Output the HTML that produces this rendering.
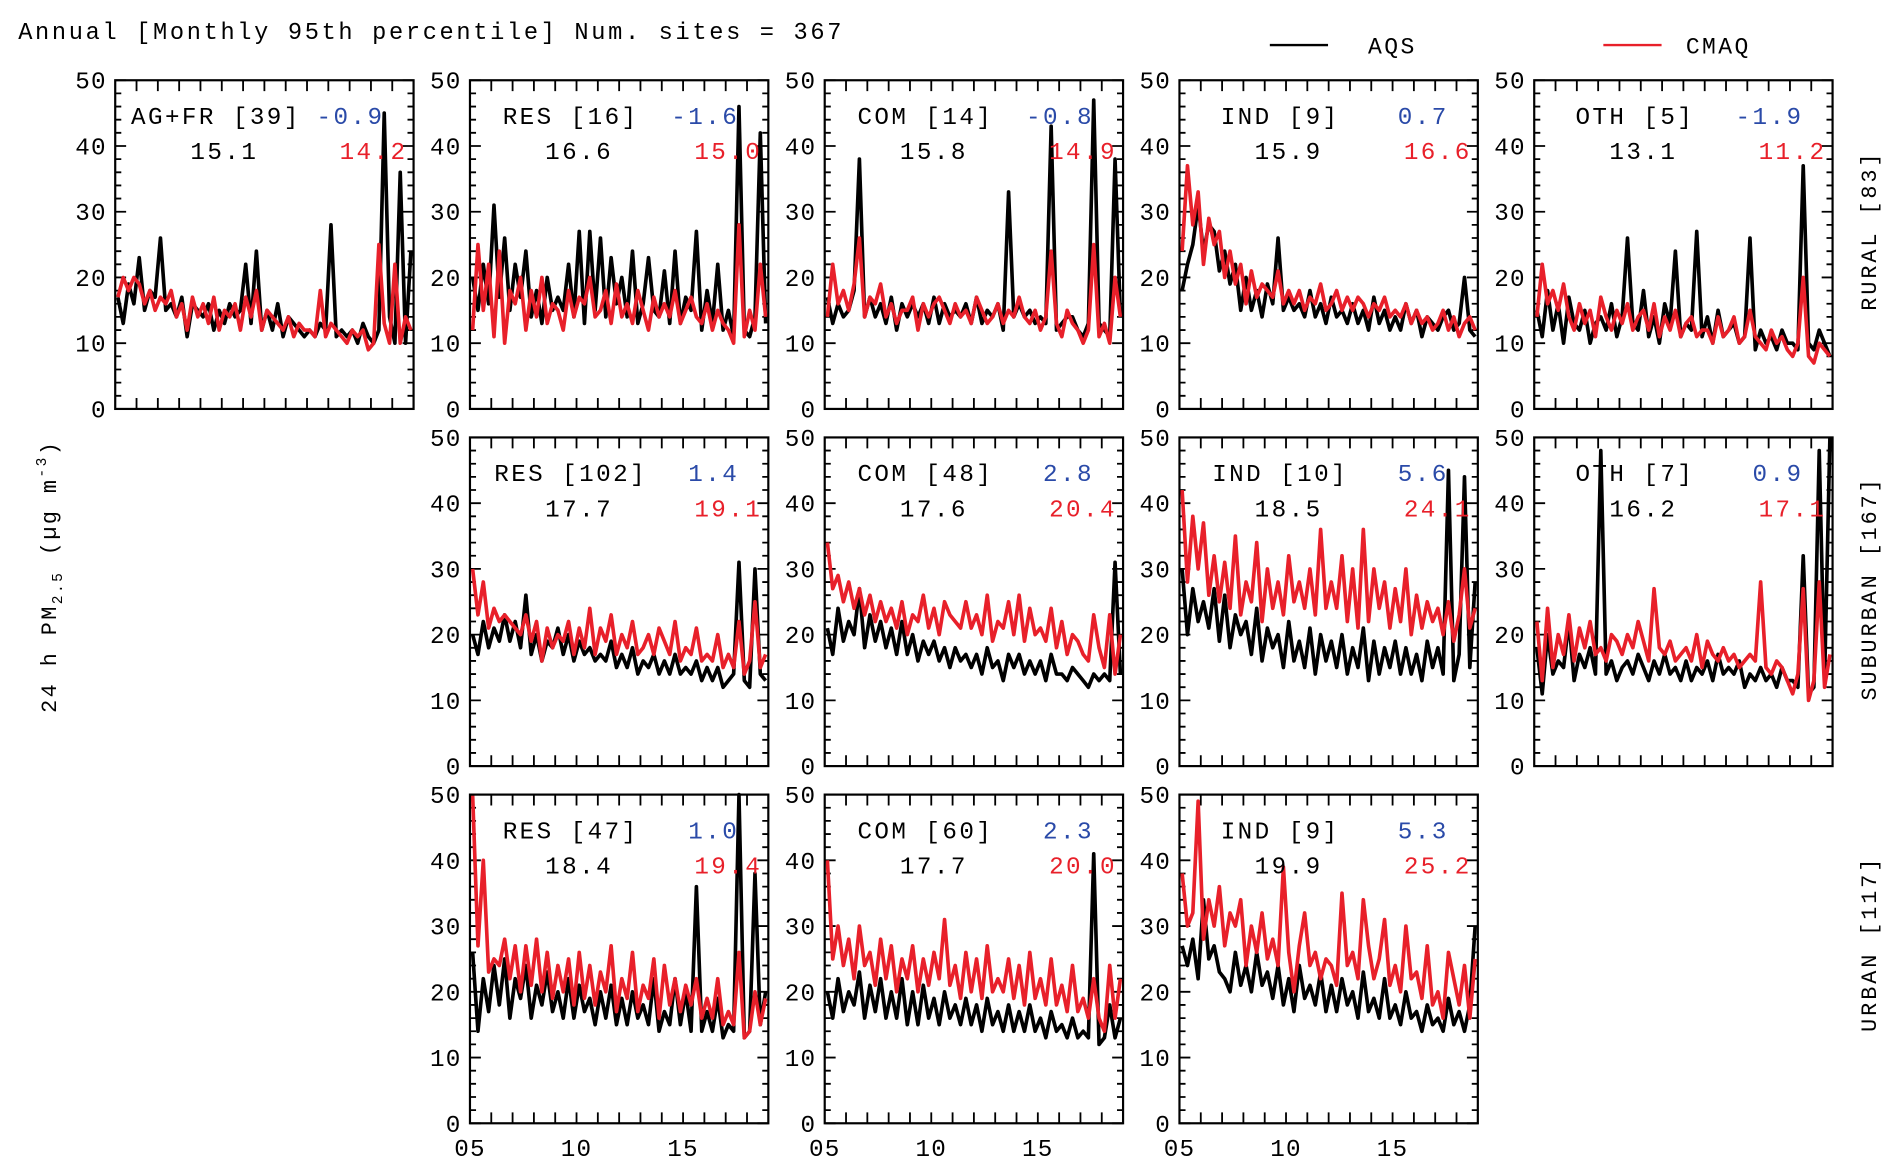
<!DOCTYPE html>
<html><head><meta charset="utf-8">
<style>
html,body{margin:0;padding:0;background:#fff;}
svg{display:block;font-family:"Liberation Mono","DejaVu Sans Mono",monospace;}
</style></head>
<body>
<svg id="chart" width="1892" height="1172" viewBox="0 0 1560 966" xmlns="http://www.w3.org/2000/svg">
<text x="15" y="32" font-size="19.5" letter-spacing="2.2" fill="#000">Annual [Monthly 95th percentile] Num. sites = 367</text>
<g>
<line x1="1047" y1="37" x2="1095" y2="37" stroke="#000" stroke-width="2"/>
<text x="1128" y="44" font-size="19" letter-spacing="2" fill="#000">AQS</text>
<line x1="1322" y1="37" x2="1370" y2="37" stroke="#e8202a" stroke-width="2"/>
<text x="1390" y="44" font-size="19" letter-spacing="2" fill="#000">CMAQ</text>
</g>
<text transform="translate(46,475) rotate(-90)" text-anchor="middle" font-size="18" letter-spacing="2" fill="#000">24 h PM<tspan font-size="12" dy="5">2.5</tspan><tspan dy="-5"> (µg m</tspan><tspan font-size="12" dy="-8">-3</tspan><tspan dy="8">)</tspan></text>
<text transform="translate(1547,190) rotate(-90)" text-anchor="middle" font-size="18" letter-spacing="2.4" fill="#000">RURAL [83]</text>
<text transform="translate(1547,485) rotate(-90)" text-anchor="middle" font-size="18" letter-spacing="2.4" fill="#000">SUBURBAN [167]</text>
<text transform="translate(1547,778) rotate(-90)" text-anchor="middle" font-size="18" letter-spacing="2.4" fill="#000">URBAN [117]</text>
<g id="panels"></g>
</svg>
<script>
// Quarterly values, 2005 Q1 .. 2018 Q4 (56 per series)
const rurAgfrAqs=[17,13,19,16,23,15,18,17,26,15,16,14,17,11,16,15,14,16,12,15,13,16,14,15,22,13,24,12,15,12,16,11,14,13,12,11,12,11,13,12,28,11,12,11,12,10,13,11,10,12,45,14,10,36,10,24];
const rurAgfrCmaq=[17,20,18,20,19,16,18,15,17,16,18,14,16,12,17,14,16,13,17,12,15,14,16,12,17,14,18,12,15,14,13,12,14,11,13,12,12,11,18,11,13,12,11,10,12,11,12,9,10,25,13,10,22,10,14,12];
const rurResAqs=[20,15,22,16,31,17,26,15,22,17,24,14,18,13,20,15,17,15,22,14,27,13,27,15,26,14,23,16,20,14,24,13,16,23,15,14,21,13,24,13,17,15,27,12,18,13,22,12,15,11,46,12,11,14,42,13];
const rurResCmaq=[12,25,15,22,11,24,10,18,16,20,12,18,14,20,13,16,15,12,18,14,17,16,20,14,15,18,13,19,14,16,13,18,15,12,17,14,16,14,18,13,15,17,14,13,16,12,15,13,12,10,28,11,15,12,22,14];
const rurComAqs=[17,13,16,14,15,18,38,14,17,14,16,13,17,12,16,14,16,14,16,13,17,13,16,14,15,14,16,13,17,13,15,14,16,12,33,14,16,14,15,13,14,13,43,12,13,14,14,12,11,13,47,13,12,11,38,14];
const rurComCmaq=[14,22,16,18,15,19,26,14,17,16,19,14,16,13,15,15,17,12,16,14,16,17,15,13,16,14,15,13,17,15,13,14,16,13,15,14,17,14,13,15,12,14,24,13,11,15,13,12,10,12,25,11,13,10,20,14];
const rurIndAqs=[18,22,25,31,24,28,27,21,24,19,22,15,20,15,18,14,19,16,26,15,17,15,16,14,18,14,16,13,17,14,15,13,16,13,15,12,17,13,15,12,14,12,16,13,15,11,14,13,12,14,15,12,13,20,12,11];
const rurIndCmaq=[24,37,28,33,22,29,25,27,20,24,19,22,16,21,17,19,18,17,21,16,18,16,18,15,17,16,19,15,16,18,15,17,15,17,16,14,16,15,17,14,15,14,16,13,15,13,14,12,13,15,12,14,11,13,14,12];
const rurOthAqs=[15,11,18,12,16,10,17,13,12,15,10,13,14,12,16,11,14,26,13,12,18,11,14,10,16,13,24,11,13,12,27,11,14,10,15,11,12,13,10,11,26,9,12,10,11,9,12,10,10,9,37,10,9,12,10,8];
const rurOthCmaq=[14,22,16,18,15,19,14,12,16,13,15,11,17,14,12,15,13,16,12,14,15,12,16,11,14,12,15,11,13,14,11,12,12,10,14,11,12,14,10,11,15,11,10,9,12,10,11,9,8,10,20,8,7,10,9,8];
const subResAqs=[20,17,22,18,21,19,23,19,22,18,26,17,20,16,19,18,21,17,20,16,19,17,18,16,17,16,19,15,17,15,18,14,16,15,17,14,16,14,17,14,15,14,16,13,15,13,15,12,13,14,31,13,12,30,14,13];
const subResCmaq=[30,23,28,21,24,22,23,22,21,20,23,19,22,16,21,18,20,19,22,17,21,18,24,17,21,19,23,17,20,18,22,17,18,20,17,21,19,17,22,16,18,17,21,16,17,16,20,15,17,15,22,14,16,25,15,17];
const subComAqs=[21,17,24,19,22,20,27,18,23,19,22,18,21,17,22,17,20,16,19,17,19,16,18,15,18,16,17,15,17,14,18,15,16,13,17,15,17,14,16,14,16,13,17,14,14,13,15,14,13,12,14,13,14,13,31,14];
const subComCmaq=[34,27,29,25,28,24,27,23,26,22,25,22,24,21,25,20,23,22,26,21,24,20,25,23,22,21,25,21,23,20,26,19,22,21,25,20,26,19,24,20,21,19,24,18,22,17,20,19,17,16,23,18,15,23,14,20];
const subIndAqs=[30,20,27,22,25,21,27,19,26,18,23,20,22,17,24,16,21,18,20,15,22,16,19,15,21,14,20,16,19,15,20,14,18,15,21,13,19,14,18,15,19,14,18,14,17,13,19,15,18,14,45,13,17,44,15,28];
const subIndCmaq=[42,28,38,30,37,26,32,25,31,24,35,23,28,25,34,22,30,24,28,23,32,25,28,24,30,23,36,24,28,24,32,22,30,21,36,22,30,24,28,21,27,22,30,20,26,21,25,22,24,20,25,19,23,30,21,24];
const subOthAqs=[18,11,20,14,16,15,22,13,17,15,18,14,48,14,16,13,15,16,14,17,15,13,16,14,17,14,15,13,16,13,15,14,16,13,17,14,15,14,16,12,14,13,15,13,14,12,15,13,13,12,32,11,12,48,13,50];
const subOthCmaq=[22,13,24,15,20,17,23,16,21,18,22,17,18,16,20,19,17,20,18,22,19,16,27,18,17,19,16,17,18,16,20,15,19,17,16,18,16,17,15,16,17,16,28,15,14,16,15,13,11,14,27,10,13,28,12,17];
const urbResAqs=[26,14,22,17,24,18,25,16,22,19,24,16,21,18,23,17,20,16,22,16,21,17,19,15,20,16,21,15,19,15,20,16,18,15,22,14,17,15,22,15,20,14,36,14,17,14,19,13,15,14,50,13,14,38,15,20];
const urbResCmaq=[50,27,40,23,25,24,28,22,27,20,27,21,28,20,26,19,24,20,25,18,26,19,24,18,23,20,27,17,22,19,26,17,21,19,25,16,24,18,22,17,21,18,22,16,19,16,22,15,17,15,26,13,14,20,15,19];
const urbComAqs=[20,16,22,17,20,18,23,16,21,17,22,16,20,16,22,15,20,15,21,16,19,15,20,16,18,15,19,15,18,14,19,15,17,14,18,14,17,14,18,14,16,13,17,14,15,13,16,13,14,13,41,12,13,18,13,16];
const urbComCmaq=[40,25,30,24,28,22,30,24,26,21,28,22,27,20,25,22,27,20,25,21,26,22,31,21,24,19,26,20,25,19,27,20,22,20,25,19,24,18,26,19,22,18,25,18,21,17,24,17,19,16,22,16,14,24,16,22];
const urbIndAqs=[27,24,28,22,34,25,27,23,22,20,26,21,24,20,26,21,23,19,24,18,22,17,24,19,21,18,23,17,21,17,22,18,20,16,23,17,19,16,22,16,18,15,20,16,17,14,18,15,16,14,19,15,17,14,18,30];
const urbIndCmaq=[38,30,32,49,28,34,30,36,27,32,30,34,24,30,26,32,25,28,24,39,26,20,27,32,24,26,22,25,24,21,35,24,26,22,34,27,22,25,31,21,24,20,30,22,23,19,27,18,20,16,26,22,18,24,16,25];

const panelLabels=["AG+FR [39]","RES [16]","COM [14]","IND [9]","OTH [5]","RES [102]","COM [48]","IND [10]","OTH [7]","RES [47]","COM [60]","IND [9]"];
const panelDiffs=["-0.9","-1.6","-0.8","0.7","-1.9","1.4","2.8","5.6","0.9","1.0","2.3","5.3"];
const panelMeanAqs=["15.1","16.6","15.8","15.9","13.1","17.7","17.6","18.5","16.2","18.4","17.7","19.9"];
const panelMeanCmaq=["14.2","15.0","14.9","16.6","11.2","19.1","20.4","24.1","17.1","19.4","20.0","25.2"];
const panelRows=[0,0,0,0,0,1,1,1,1,2,2,2];
const panelCols=[0,1,2,3,4,1,2,3,4,1,2,3];
const aqsSeries=[rurAgfrAqs,rurResAqs,rurComAqs,rurIndAqs,rurOthAqs,subResAqs,subComAqs,subIndAqs,subOthAqs,urbResAqs,urbComAqs,urbIndAqs];
const cmaqSeries=[rurAgfrCmaq,rurResCmaq,rurComCmaq,rurIndCmaq,rurOthCmaq,subResCmaq,subComCmaq,subIndCmaq,subOthCmaq,urbResCmaq,urbComCmaq,urbIndCmaq];
const yTicks=[0,10,20,30,40,50];
const xTickLabels=["05","10","15"];
const xTickYears=[2005,2010,2015];

const NS="http://www.w3.org/2000/svg";
const root=document.getElementById("panels");
const PW=246,PH=271,X0=95,Y0=66,PX=292.5,PY=294.5;
const YEAR0=2005,YEAR1=2019,YMAX=50;
function mk(tag,attrs,parent){const e=document.createElementNS(NS,tag);for(const k in attrs)e.setAttribute(k,attrs[k]);parent.appendChild(e);return e;}

panelLabels.forEach((lab,p)=>{
  const L=X0+panelCols[p]*PX, T=Y0+panelRows[p]*PY;
  const xs=yr=>L+(yr-YEAR0)/(YEAR1-YEAR0)*PW;
  const ys=v=>T+PH-Math.min(v,YMAX)/YMAX*PH;
  const g=mk("g",{},root);
  
  
  let d="";
  for(let v=0;v<=YMAX;v+=2){const y=ys(v),len=(v%10===0)?9:5;d+=`M${L},${y}h${len}M${L+PW},${y}h${-len}`;}
  for(let yr=YEAR0+1;yr<YEAR1;yr++){const x=xs(yr);d+=`M${x},${T}v9M${x},${T+PH}v-9`;}
  const tk=mk("path",{d:d,stroke:"#000","stroke-width":1.5,fill:"none"},g);
  
  
  yTicks.forEach(v=>{
    const t=mk("text",{x:L-7,y:ys(v)+7,"text-anchor":"end","font-size":20,"letter-spacing":1,fill:"#000"},g);
    
    
    t.textContent=v;
  });
  if(panelRows[p]===2){
    xTickLabels.forEach((s,i)=>{
      const t=mk("text",{x:xs(xTickYears[i]),y:953,"text-anchor":"middle","font-size":20,"letter-spacing":1,fill:"#000"},g);
      
      
      t.textContent=s;
    });
  }
  [[aqsSeries[p],"#000","aqs-line"],[cmaqSeries[p],"#e8202a","cmaq-line"]].forEach(([arr,col,nm])=>{
    const pts=arr.map((v,i)=>`${xs(YEAR0+(i+0.5)*(YEAR1-YEAR0)/arr.length).toFixed(1)},${ys(v).toFixed(1)}`).join(" ");
    const pl=mk("polyline",{points:pts,fill:"none",stroke:col,"stroke-width":3,"stroke-linejoin":"round"},g);
    
    
  });
  const fr=mk("rect",{x:L,y:T,width:PW,height:PH,fill:"none",stroke:"#000","stroke-width":1.8},g);
  
  
  const t1=mk("text",{x:L+83,y:T+36,"text-anchor":"middle","font-size":20,"letter-spacing":2,fill:"#000"},g);
  
  
  t1.textContent=lab;
  const t2=mk("text",{x:L+222,y:T+36,"text-anchor":"end","font-size":20,"letter-spacing":2,fill:"#2a4aa8"},g);
  
  
  t2.textContent=panelDiffs[p];
  const t3=mk("text",{x:L+90,y:T+65,"text-anchor":"middle","font-size":20,"letter-spacing":2,fill:"#000"},g);
  
  
  t3.textContent=panelMeanAqs[p];
  const t4=mk("text",{x:L+241,y:T+65,"text-anchor":"end","font-size":20,"letter-spacing":2,fill:"#e8202a"},g);
  
  
  t4.textContent=panelMeanCmaq[p];
});
</script>
</body></html>
